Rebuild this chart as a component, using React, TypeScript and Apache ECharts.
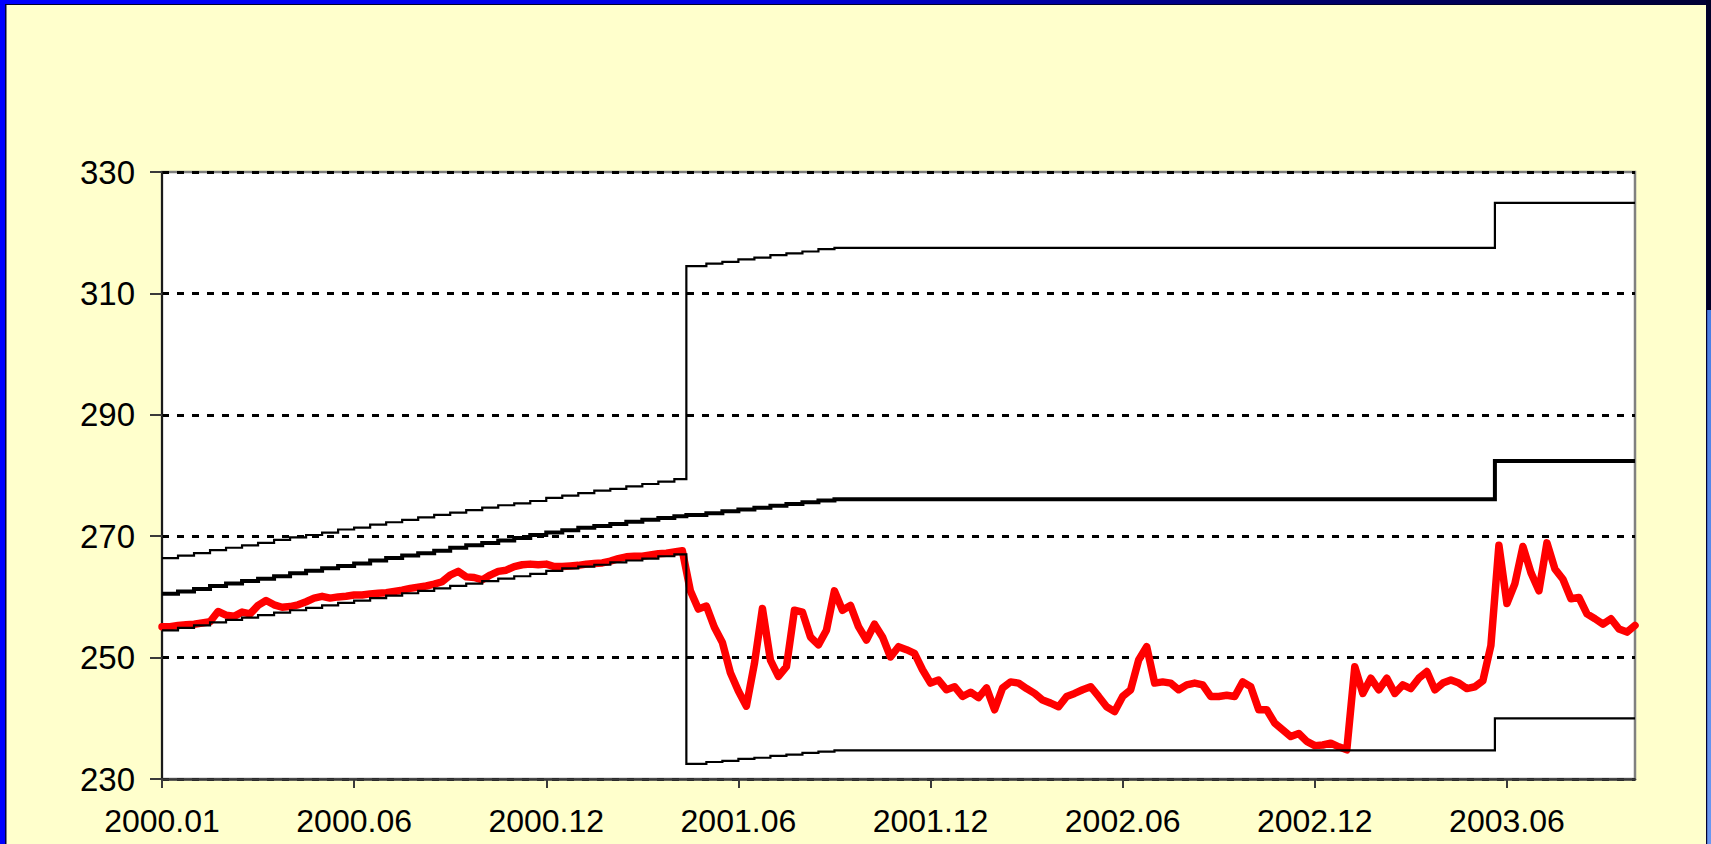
import React, { useEffect, useRef } from "react";
import * as echarts from "echarts";

// Tick labels of the horizontal axis and the observation index where each sits
const tickLabels = ["2000.01", "2000.06", "2000.12", "2001.06", "2001.12", "2002.06", "2002.12", "2003.06"];
const tickIndex = [0, 24, 48, 72, 96, 120, 144, 168];
const lastIndex = 184;

// Red series: one reading per observation index 0..184
const rateValues = [
  255.1, 255.1, 255.3, 255.4, 255.5, 255.7, 255.9, 257.6, 257.0, 256.8,
  257.5, 257.2, 258.6, 259.4, 258.7, 258.3, 258.4, 258.7, 259.2, 259.8,
  260.1, 259.8, 260.0, 260.1, 260.3, 260.3, 260.5, 260.6, 260.7, 260.9,
  261.1, 261.4, 261.6, 261.8, 262.1, 262.5, 263.6, 264.2, 263.3, 263.2,
  262.8, 263.6, 264.2, 264.4, 265.0, 265.3, 265.4, 265.3, 265.4, 265.0,
  265.0, 265.1, 265.2, 265.4, 265.5, 265.6, 265.9, 266.3, 266.6, 266.7,
  266.7, 266.9, 267.1, 267.2, 267.4, 267.6, 261.0, 258.0, 258.5, 255.0,
  252.5, 247.5, 244.5, 242.0, 249.0, 258.1, 249.6, 246.9, 248.5, 257.8,
  257.5, 253.4, 252.1, 254.5, 261.0, 257.8, 258.6, 255.1, 252.9, 255.5,
  253.4, 250.1, 251.8, 251.3, 250.7, 248.0, 245.8, 246.3, 244.7, 245.2,
  243.6, 244.3, 243.4, 245.0, 241.4, 245.0, 246.0, 245.8, 244.9, 244.1,
  243.0, 242.5, 241.9, 243.6, 244.1, 244.7, 245.2, 243.6, 241.9, 241.1,
  243.6, 244.7, 249.6, 251.8, 245.8, 246.0, 245.8, 244.7, 245.5, 245.8,
  245.5, 243.6, 243.6, 243.8, 243.6, 246.0, 245.2, 241.4, 241.4, 239.2,
  238.1, 237.0, 237.5, 236.2, 235.5, 235.6, 235.9, 235.3, 234.8, 248.5,
  244.1, 246.6, 244.7, 246.6, 244.1, 245.5, 244.9, 246.6, 247.7, 244.7,
  245.8, 246.3, 245.8, 244.9, 245.2, 246.2, 252.0, 268.5, 258.9, 262.2,
  268.3, 264.0, 261.0, 268.9, 264.6, 262.9, 259.7, 259.9, 257.2, 256.4,
  255.5, 256.4, 254.7, 254.2, 255.3,
];

// Stepped band lines: indices where a level starts, and the level of each line
const bandIndex = [
  0, 2, 4, 6, 8, 10, 12, 14, 16, 18, 20, 22, 24, 26, 28, 30, 32, 34, 36, 38,
  40, 42, 44, 46, 48, 50, 52, 54, 56, 58, 60, 62, 64, 65.5, 68, 70, 72, 74, 76, 78,
  80, 82, 84, 166.5, 184,
];
const centralValues = [
  260.5, 260.9, 261.3, 261.8, 262.2, 262.6, 263.0, 263.4, 263.9, 264.3,
  264.7, 265.1, 265.5, 266.0, 266.4, 266.8, 267.2, 267.6, 268.1, 268.5,
  268.9, 269.3, 269.7, 270.2, 270.6, 271.0, 271.4, 271.7, 272.0, 272.4,
  272.7, 273.0, 273.3, 273.5, 273.8, 274.1, 274.4, 274.7, 275.0, 275.3,
  275.6, 275.9, 276.1, 282.4, 282.4,
];
const upperValues = [
  266.4, 266.8, 267.2, 267.7, 268.1, 268.5, 268.9, 269.4, 269.8, 270.2,
  270.6, 271.1, 271.4, 271.9, 272.3, 272.7, 273.1, 273.5, 273.9, 274.3,
  274.7, 275.1, 275.4, 275.8, 276.3, 276.7, 277.1, 277.5, 277.8, 278.2,
  278.6, 279.0, 279.4, 314.5, 314.9, 315.2, 315.6, 315.9, 316.3, 316.6,
  316.9, 317.3, 317.5, 324.9, 324.9,
];
const lowerValues = [
  254.5, 254.9, 255.3, 255.8, 256.2, 256.6, 257.0, 257.4, 257.8, 258.2,
  258.6, 259.0, 259.4, 259.8, 260.2, 260.6, 261.0, 261.4, 261.8, 262.2,
  262.6, 263.0, 263.4, 263.8, 264.3, 264.7, 265.0, 265.3, 265.7, 266.0,
  266.3, 266.7, 267.0, 232.5, 232.8, 233.0, 233.3, 233.5, 233.8, 234.0,
  234.3, 234.5, 234.7, 240.0, 240.0,
];

const FONT = "'Liberation Sans', Arial, sans-serif";

export default function App() {
  const ref = useRef<HTMLDivElement>(null);

  useEffect(() => {
    if (!ref.current) return;
    const chart = echarts.init(ref.current, undefined, { renderer: "svg" });

    const bandSeries = (name: string, values: number[], width: number) => ({
      name,
      type: "line",
      step: "end",
      data: bandIndex.map((x, k) => [x, values[k]]),
      showSymbol: false,
      silent: true,
      z: 3,
      lineStyle: { color: "#000000", width, cap: "butt", join: "miter" },
    });

    chart.setOption({
      animation: false,
      backgroundColor: "#FFFFCC",
      grid: {
        left: 162,
        top: 172,
        width: 1473,
        height: 607,
        show: true,
        backgroundColor: "#FFFFFF",
        borderColor: "#808080",
        borderWidth: 2.5,
      },
      xAxis: {
        type: "value",
        min: 0,
        max: lastIndex,
        axisLine: { show: true, onZero: false, lineStyle: { color: "#3a3a3a", width: 2.5 } },
        axisTick: {
          show: true,
          customValues: tickIndex,
          length: 9,
          lineStyle: { color: "#3a3a3a", width: 2 },
        },
        axisLabel: {
          customValues: tickIndex,
          margin: 26,
          fontSize: 32,
          fontFamily: FONT,
          color: "#000000",
          formatter: (v: number) => {
            const k = tickIndex.indexOf(Math.round(v));
            return k >= 0 ? tickLabels[k] : "";
          },
        },
        splitLine: { show: false },
      },
      yAxis: {
        type: "value",
        min: 230,
        max: 330,
        interval: 20,
        axisLine: { show: true, lineStyle: { color: "#1a1a1a", width: 2 } },
        axisTick: { show: true, length: 12, lineStyle: { color: "#3a3a3a", width: 2 } },
        axisLabel: { margin: 27, fontSize: 33, fontFamily: FONT, color: "#000000" },
        splitLine: {
          show: true,
          lineStyle: { color: "#000000", width: 3, type: [7, 8] },
        },
      },
      series: [
        {
          name: "rate",
          type: "line",
          data: rateValues.map((v, i) => [i, v]),
          showSymbol: false,
          silent: true,
          z: 2,
          lineStyle: { color: "#FF0000", width: 7.5, cap: "round", join: "round" },
        },
        bandSeries("lower", lowerValues, 2.2),
        bandSeries("central", centralValues, 4),
        bandSeries("upper", upperValues, 2.2),
      ],
      graphic: [
        {
          type: "rect",
          silent: true,
          shape: { x: 0, y: 0, width: 1711, height: 4 },
          style: {
            fill: new echarts.graphic.LinearGradient(0, 0, 1, 0, [
              { offset: 0, color: "#0000FF" },
              { offset: 0.45, color: "#0000E0" },
              { offset: 0.75, color: "#000070" },
              { offset: 1, color: "#000035" },
            ]),
          },
        },
        { type: "rect", silent: true, shape: { x: 0, y: 4, width: 1711, height: 1 }, style: { fill: "#000030" } },
        { type: "rect", silent: true, shape: { x: 0, y: 0, width: 5, height: 844 }, style: { fill: "#0000FF" } },
        { type: "rect", silent: true, shape: { x: 5, y: 4, width: 1.5, height: 840 }, style: { fill: "#000040" } },
        { type: "rect", silent: true, shape: { x: 1706, y: 0, width: 5, height: 310 }, style: { fill: "#000028" } },
        {
          type: "rect",
          silent: true,
          shape: { x: 1706, y: 310, width: 5, height: 534 },
          style: {
            fill: new echarts.graphic.LinearGradient(0, 0, 0, 1, [
              { offset: 0, color: "#4A7FE6" },
              { offset: 1, color: "#6A98F2" },
            ]),
          },
        },
        { type: "rect", silent: true, shape: { x: 1706, y: 4, width: 1.2, height: 840 }, style: { fill: "#000030" } },
      ],
    });

    return () => chart.dispose();
  }, []);

  return (
    <div
      ref={ref}
      style={{ position: "fixed", left: 0, top: 0, width: 1711, height: 844 }}
    />
  );
}
